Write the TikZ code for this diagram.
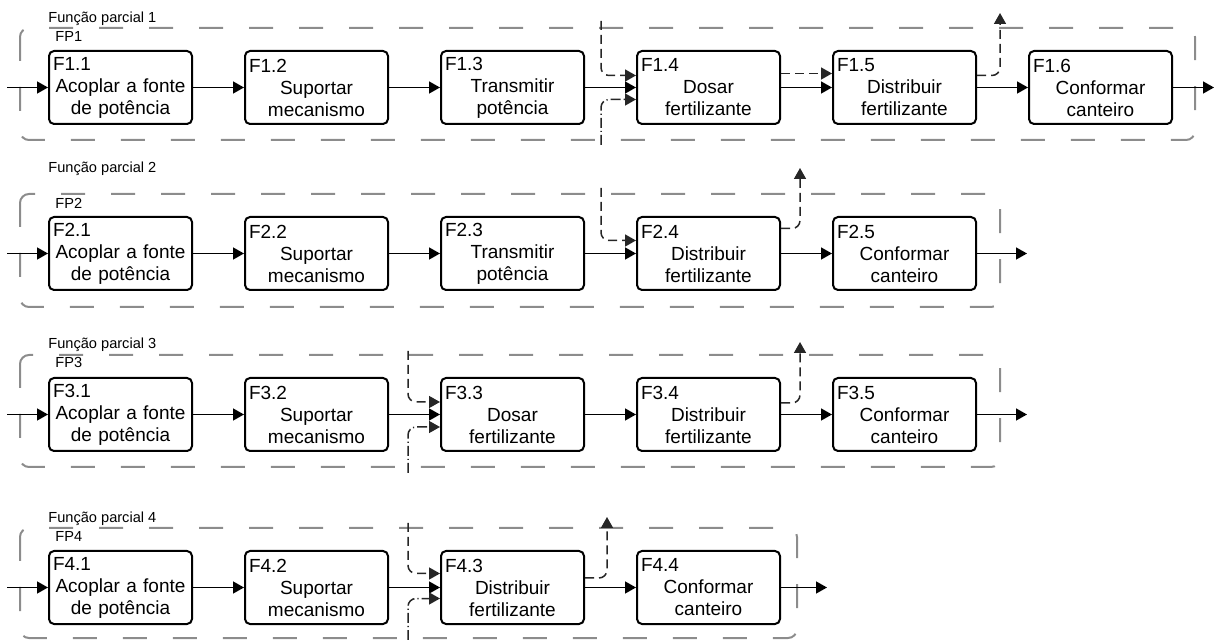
\documentclass[tikz,border=0pt]{standalone}
\usepackage{fontspec}
\setmainfont{Liberation Sans}
\usetikzlibrary{positioning,arrows.meta}
\tikzset{ f/.style = { rectangle
                     , draw
                     , line width      = 1pt
                     , rounded corners = 2.5pt
                     , minimum width   = 71.5pt
                     , minimum height  = 36.5pt
                     , text width      = 67.5pt
                     , inner sep       = 2pt
                     , align           = center
                     , font = \fontsize{9.5}{11}\selectfont
                     },
          grp/.style = { draw = black!45
                       , line width      = 1pt
                       , rounded corners = 4.5pt
                       , dash pattern    = on 12pt off 13pt
                       },
           fp/.style = { anchor    = base west
                       , inner sep = 0pt
                       , font = \fontsize{7.3}{8}\selectfont
                       },
         flux/.style = { line width = 0.75pt
                       , -{Triangle[length=5.5pt,width=6pt]}
                       },
        sinal/.style = { flux
                       , draw = black!85
                       , rounded corners = 4pt
                       , dash pattern    = on 4.5pt off 2.5pt
                       },
          mat/.style = { flux
                       , draw = black!85
                       , rounded corners = 4pt
                       , dash pattern    = on 5pt off 1.5pt on 0.6pt off 1.5pt
                       }
        }
\newcommand{\ftxt}[3]{\makebox[\linewidth][l]{#1}\\#2\\#3}

\begin{document}
\begin{tikzpicture}
    [x=0.5pt, y=-0.5pt,
    node distance=25.5pt]
    \useasboundingbox (0,0) rectangle (1215,640);

    % Funcao parcial 1
    \draw[grp] (20,28) rectangle (1195,140);
    \node[fp] (t1)  at (48,23) {Função parcial 1};
    \node[fp] (fp1) at (55,42) {FP1};
    \node[f] (f11) at (120.5,87.5) {\ftxt{F1.1}{Acoplar a fonte}{de potência}};
    \node[f, right=of f11] (f12) {\ftxt{F1.2}{Suportar}{mecanismo}};
    \node[f, right=of f12] (f13) {\ftxt{F1.3}{Transmitir}{potência}};
    \node[f, right=of f13] (f14) {\ftxt{F1.4}{Dosar}{fertilizante}};
    \node[f, right=of f14] (f15) {\ftxt{F1.5}{Distribuir}{fertilizante}};
    \node[f, right=of f15] (f16) {\ftxt{F1.6}{Conformar}{canteiro}};
    \coordinate (e1) at (7,87.5);
    \coordinate (s1) at (1214,87.5);
    \coordinate (a1) at (601,21);
    \coordinate (b1) at (601,145);
    \coordinate (c1) at (1000,13);
    \draw[flux] (e1) -- (f11);
    \draw[flux] (f11) -- (f12);
    \draw[flux] (f12) -- (f13);
    \draw[flux] (f13) -- (f14);
    \draw[sinal] (a1) |- ([yshift=6pt]f14.west);
    \draw[mat] (b1) |- ([yshift=-6pt]f14.west);
    \draw[sinal] ([yshift=7pt]f14.east) -- ([yshift=7pt]f15.west);
    \draw[flux] (f14) -- (f15);
    \draw[sinal] ([yshift=6pt]f15.east) -| (c1);
    \draw[flux] (f15) -- (f16);
    \draw[flux] (f16) -- (s1);

    % Funcao parcial 2
    \draw[grp] (20,194) rectangle (1000,307);
    \node[fp] (t2)  at (48,173) {Função parcial 2};
    \node[fp] (fp2) at (55,209) {FP2};
    \node[f] (f21) at (120.5,253.5) {\ftxt{F2.1}{Acoplar a fonte}{de potência}};
    \node[f, right=of f21] (f22) {\ftxt{F2.2}{Suportar}{mecanismo}};
    \node[f, right=of f22] (f23) {\ftxt{F2.3}{Transmitir}{potência}};
    \node[f, right=of f23] (f24) {\ftxt{F2.4}{Distribuir}{fertilizante}};
    \node[f, right=of f24] (f25) {\ftxt{F2.5}{Conformar}{canteiro}};
    \coordinate (e2) at (7,253.5);
    \coordinate (s2) at (1027,253.5);
    \coordinate (a2) at (601,188);
    \coordinate (c2) at (800,168);
    \draw[flux] (e2) -- (f21);
    \draw[flux] (f21) -- (f22);
    \draw[flux] (f22) -- (f23);
    \draw[flux] (f23) -- (f24);
    \draw[sinal] (a2) |- ([yshift=6.5pt]f24.west);
    \draw[sinal] ([yshift=12.5pt]f24.east) -| (c2);
    \draw[flux] (f24) -- (f25);
    \draw[flux] (f25) -- (s2);

    % Funcao parcial 3
    \draw[grp] (20,355) rectangle (1000,467);
    \node[fp] (t3)  at (48,349) {Função parcial 3};
    \node[fp] (fp3) at (55,368) {FP3};
    \node[f] (f31) at (120.5,414.5) {\ftxt{F3.1}{Acoplar a fonte}{de potência}};
    \node[f, right=of f31] (f32) {\ftxt{F3.2}{Suportar}{mecanismo}};
    \node[f, right=of f32] (f33) {\ftxt{F3.3}{Dosar}{fertilizante}};
    \node[f, right=of f33] (f34) {\ftxt{F3.4}{Distribuir}{fertilizante}};
    \node[f, right=of f34] (f35) {\ftxt{F3.5}{Conformar}{canteiro}};
    \coordinate (e3) at (7,414.5);
    \coordinate (s3) at (1027,414.5);
    \coordinate (a3) at (408,351);
    \coordinate (b3) at (408,473);
    \coordinate (c3) at (800,342);
    \draw[flux] (e3) -- (f31);
    \draw[flux] (f31) -- (f32);
    \draw[flux] (f32) -- (f33);
    \draw[sinal] (a3) |- ([yshift=6.25pt]f33.west);
    \draw[mat] (b3) |- ([yshift=-6.25pt]f33.west);
    \draw[flux] (f33) -- (f34);
    \draw[sinal] ([yshift=5.75pt]f34.east) -| (c3);
    \draw[flux] (f34) -- (f35);
    \draw[flux] (f35) -- (s3);

    % Funcao parcial 4
    \draw[grp] (20,528) rectangle (797,638);
    \node[fp] (t4)  at (48,523) {Função parcial 4};
    \node[fp] (fp4) at (55,542) {FP4};
    \node[f] (f41) at (120.5,587.5) {\ftxt{F4.1}{Acoplar a fonte}{de potência}};
    \node[f, right=of f41] (f42) {\ftxt{F4.2}{Suportar}{mecanismo}};
    \node[f, right=of f42] (f43) {\ftxt{F4.3}{Distribuir}{fertilizante}};
    \node[f, right=of f43] (f44) {\ftxt{F4.4}{Conformar}{canteiro}};
    \coordinate (e4) at (7,587.5);
    \coordinate (s4) at (827,587.5);
    \coordinate (a4) at (408,523);
    \coordinate (b4) at (408,640);
    \coordinate (c4) at (607,517);
    \draw[flux] (e4) -- (f41);
    \draw[flux] (f41) -- (f42);
    \draw[flux] (f42) -- (f43);
    \draw[sinal] (a4) |- ([yshift=7pt]f43.west);
    \draw[mat] (b4) |- ([yshift=-5.5pt]f43.west);
    \draw[sinal] ([yshift=4.75pt]f43.east) -| (c4);
    \draw[flux] (f43) -- (f44);
    \draw[flux] (f44) -- (s4);
\end{tikzpicture}
\end{document}
